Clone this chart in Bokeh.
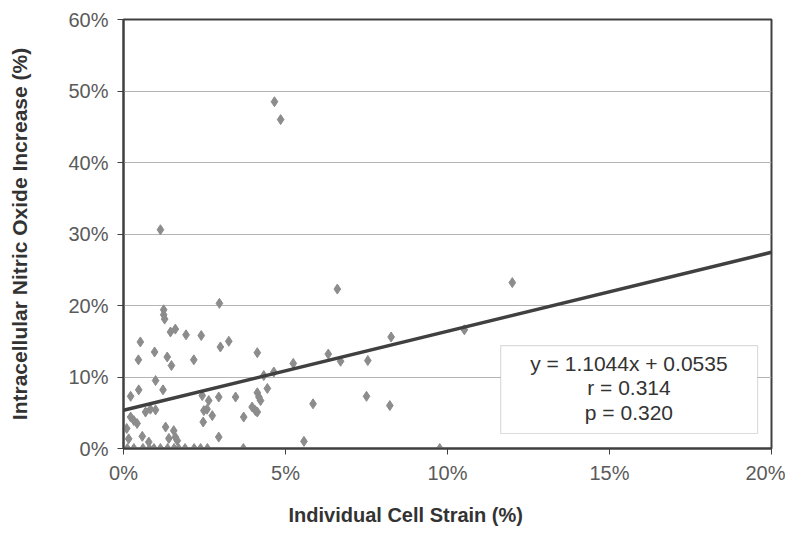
from bokeh.plotting import figure
from bokeh.models import NumeralTickFormatter, FixedTicker, BoxAnnotation, Label, Range1d, Title
from bokeh.embed import file_html
from bokeh.resources import INLINE

# Individual cell strain (fraction) and intracellular NO increase (fraction)
strain = [0.0466, 0.0485, 0.0114, 0.1200, 0.0660, 0.0296, 0.0124, 0.0124, 0.0127, 0.0145,
          0.0160, 0.0193, 0.0240, 0.0052, 0.0096, 0.0135, 0.0148, 0.0046, 0.0217, 0.0299,
          0.0325, 0.0413, 0.0524, 0.0632, 0.0670, 0.0754, 0.0826, 0.1052, 0.0585, 0.0750,
          0.0822, 0.0557, 0.0976, 0.0099, 0.0122, 0.0022, 0.0047, 0.0068, 0.0083, 0.0099,
          0.0022, 0.0032, 0.0042, 0.0130, 0.0155, 0.0010, 0.0016, 0.0058, 0.0160, 0.0140,
          0.0166, 0.0078, 0.0243, 0.0263, 0.0294, 0.0346, 0.0413, 0.0418, 0.0423, 0.0444,
          0.0248, 0.0258, 0.0274, 0.0246, 0.0397, 0.0407, 0.0413, 0.0371, 0.0294, 0.0433,
          0.0464,
          0.0012, 0.0032, 0.0060, 0.0080, 0.0094, 0.0114, 0.0136, 0.0156, 0.0170, 0.0190,
          0.0218, 0.0238, 0.0259, 0.0370]
no_increase = [0.485, 0.460, 0.306, 0.232, 0.223, 0.203, 0.194, 0.187, 0.181, 0.163,
               0.167, 0.159, 0.158, 0.149, 0.135, 0.128, 0.116, 0.124, 0.124, 0.142,
               0.150, 0.134, 0.119, 0.132, 0.122, 0.123, 0.156, 0.166, 0.0625, 0.073,
               0.060, 0.010, 0.000, 0.095, 0.082, 0.073, 0.082, 0.051, 0.055, 0.054,
               0.044, 0.039, 0.035, 0.030, 0.025, 0.028, 0.0135, 0.017, 0.016, 0.014,
               0.011, 0.009, 0.074, 0.067, 0.072, 0.072, 0.078, 0.072, 0.067, 0.084,
               0.053, 0.055, 0.046, 0.037, 0.058, 0.053, 0.051, 0.044, 0.016, 0.102,
               0.107,
               0.0, 0.0, 0.0, 0.0, 0.0, 0.0, 0.0, 0.0, 0.0, 0.0,
               0.0, 0.0, 0.0, 0.0]

x_ticks = [0.0, 0.05, 0.10, 0.15, 0.20]
y_ticks = [0.0, 0.1, 0.2, 0.3, 0.4, 0.5, 0.6]

# Linear fit shown in the chart
slope = 1.1044
intercept = 0.0535
r_value = 0.314
p_value = 0.320
fit_x = [0.0, 0.20]
fit_y = [intercept + slope * v for v in fit_x]

x_title = "Individual Cell Strain (%)"
y_title = "Intracellular Nitric Oxide Increase (%)"

FONT = "Liberation Sans"

p = figure(width=785, height=541, output_backend="svg", toolbar_location=None,
           x_range=Range1d(0, 0.20), y_range=Range1d(0, 0.60),
           min_border_left=123, min_border_right=14, min_border_top=19, min_border_bottom=93)

p.background_fill_color = "white"
p.border_fill_color = "white"
p.outline_line_color = "#404040"
p.outline_line_width = 2

p.xgrid.grid_line_color = None
p.ygrid.grid_line_color = "#b4b4b4"
p.ygrid.grid_line_width = 1.2
p.ygrid.ticker = FixedTicker(ticks=y_ticks)

for ax in (p.xaxis[0], p.yaxis[0]):
    ax.axis_line_color = "#404040"
    ax.axis_line_width = 2
    ax.major_tick_line_color = "#404040"
    ax.major_tick_in = 0
    ax.major_tick_out = 6
    ax.minor_tick_line_color = None
    ax.major_label_text_font = FONT
    ax.major_label_text_font_size = "20px"
    ax.major_label_text_color = "#5a5a5a"
    ax.formatter = NumeralTickFormatter(format="0%")

p.xaxis[0].ticker = FixedTicker(ticks=x_ticks)
p.yaxis[0].ticker = FixedTicker(ticks=y_ticks)
p.xaxis[0].major_label_standoff = 7
p.yaxis[0].major_label_standoff = 9

p.yaxis[0].axis_label = y_title
p.yaxis[0].axis_label_text_font = FONT
p.yaxis[0].axis_label_text_font_style = "bold"
p.yaxis[0].axis_label_text_font_size = "21px"
p.yaxis[0].axis_label_text_color = "#333333"
p.yaxis[0].axis_label_standoff = 34

p.add_layout(Title(text=x_title, align="left", offset=165, standoff=31,
                   text_font=FONT, text_font_style="bold", text_font_size="20px",
                   text_color="#333333"), "below")

p.scatter(strain, no_increase, marker="diamond", size=10, color="#8c8c8c")
p.line(fit_x, fit_y, line_color="#404040", line_width=3.5)

p.add_layout(BoxAnnotation(left=0.1164, right=0.1957, bottom=0.021, top=0.144,
                           fill_color="white", fill_alpha=1.0,
                           line_color="#8a8a8a", line_width=1.2))
lines = [f"y = {slope:.4f}x + {intercept:.4f}", f"r = {r_value:.3f}", f"p = {p_value:.3f}"]
for i, t in enumerate(lines):
    p.add_layout(Label(x=0.156, y=0.119 - i * 0.034, text=t, text_font=FONT,
                       text_font_size="21px", text_color="#333333",
                       text_align="center", text_baseline="middle"))

open("out.html", "w").write(file_html(p, INLINE))
